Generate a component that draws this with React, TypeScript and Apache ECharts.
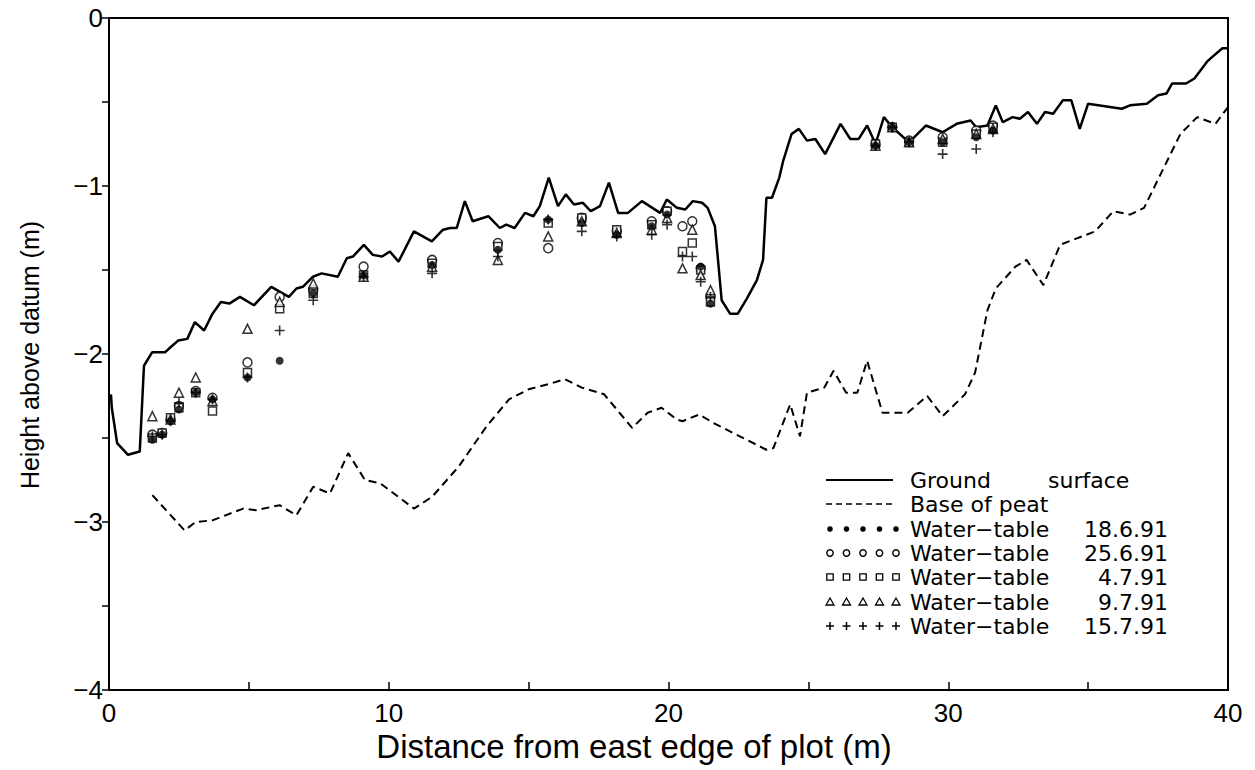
import React, { useEffect, useRef } from "react";
import * as echarts from "echarts";

// Ground surface profile [distance (m), height (m)]
const groundSurface: number[][] = [
  [0.07, -2.24], [0.1, -2.32], [0.29, -2.53], [0.68, -2.6], [1.1, -2.58], [1.25, -2.07], [1.54, -1.99], [2.0, -1.99],
  [2.2, -1.96], [2.47, -1.92], [2.8, -1.91], [3.07, -1.81], [3.4, -1.86], [3.7, -1.76], [4.0, -1.69], [4.3, -1.7],
  [4.68, -1.66], [5.18, -1.71], [5.8, -1.6], [6.43, -1.66], [6.7, -1.61], [6.93, -1.6], [7.29, -1.54], [7.6, -1.52],
  [8.18, -1.54], [8.5, -1.43], [8.72, -1.42], [9.11, -1.35], [9.43, -1.41], [9.76, -1.42], [10.04, -1.39], [10.35, -1.45],
  [10.9, -1.27], [11.54, -1.33], [11.94, -1.26], [12.2, -1.25], [12.43, -1.25], [12.72, -1.09], [13.0, -1.21], [13.56, -1.18],
  [13.97, -1.25], [14.2, -1.23], [14.5, -1.25], [14.87, -1.16], [15.17, -1.18], [15.4, -1.12], [15.72, -0.95], [16.05, -1.12],
  [16.33, -1.05], [16.62, -1.11], [16.94, -1.1], [17.22, -1.15], [17.55, -1.12], [17.87, -0.98], [18.2, -1.16], [18.55, -1.16],
  [19.05, -1.09], [19.7, -1.16], [19.94, -1.08], [20.3, -1.13], [20.6, -1.14], [20.87, -1.09], [21.2, -1.1], [21.4, -1.13],
  [21.66, -1.24], [21.77, -1.44], [21.9, -1.68], [22.2, -1.76], [22.48, -1.76], [22.8, -1.67], [23.16, -1.56], [23.38, -1.44],
  [23.5, -1.07], [23.7, -1.07], [23.96, -0.95], [24.1, -0.85], [24.4, -0.69], [24.66, -0.66], [24.95, -0.73], [25.25, -0.72],
  [25.6, -0.81], [26.15, -0.63], [26.5, -0.72], [26.8, -0.72], [27.1, -0.64], [27.4, -0.75], [27.7, -0.59], [28.0, -0.65],
  [28.6, -0.74], [29.2, -0.64], [29.8, -0.68], [30.3, -0.63], [30.8, -0.61], [31.0, -0.65], [31.4, -0.64], [31.7, -0.52],
  [31.95, -0.62], [32.3, -0.59], [32.56, -0.6], [32.85, -0.56], [33.17, -0.63], [33.46, -0.56], [33.75, -0.57], [34.1, -0.49],
  [34.4, -0.49], [34.7, -0.66], [35.0, -0.51], [36.2, -0.54], [36.5, -0.52], [37.1, -0.51], [37.5, -0.46], [37.8, -0.45],
  [38.0, -0.39], [38.5, -0.39], [38.8, -0.36], [39.25, -0.26], [39.45, -0.23], [39.8, -0.18], [40, -0.18],
];

// Base of peat profile [distance (m), height (m)]
const baseOfPeat: number[][] = [
  [1.55, -2.84], [2.7, -3.05], [3.1, -3.0], [3.7, -2.99], [4.8, -2.92], [5.25, -2.93], [6.1, -2.9], [6.7, -2.96],
  [7.3, -2.79], [7.9, -2.83], [8.55, -2.59], [9.15, -2.75], [9.7, -2.77], [10.9, -2.92], [11.55, -2.85], [12.5, -2.67],
  [13.5, -2.43], [14.3, -2.27], [15.0, -2.21], [15.7, -2.18], [16.3, -2.15], [16.9, -2.2], [17.7, -2.24], [18.7, -2.44],
  [19.25, -2.35], [19.75, -2.32], [20.3, -2.39], [20.5, -2.4], [21.1, -2.36], [21.6, -2.41], [23.5, -2.57], [23.75, -2.56],
  [24.35, -2.3], [24.7, -2.49], [24.95, -2.23], [25.57, -2.2], [25.9, -2.1], [26.35, -2.23], [26.75, -2.23], [27.1, -2.04],
  [27.65, -2.35], [28.05, -2.35], [28.55, -2.35], [29.25, -2.25], [29.8, -2.37], [30.6, -2.24], [30.96, -2.11], [31.4, -1.74],
  [31.7, -1.61], [32.4, -1.48], [32.8, -1.44], [33.4, -1.59], [34.0, -1.35], [35.25, -1.27], [35.9, -1.15], [36.5, -1.17],
  [37.0, -1.13], [38.3, -0.69], [38.9, -0.59], [39.55, -0.63], [40, -0.53],
];

// Dipwell stations (distance, m)
const stations = [1.55, 1.9, 2.2, 2.5, 3.1, 3.7, 4.95, 6.1, 7.3, 9.1, 11.55, 13.9, 15.7, 16.9, 18.15, 19.4, 19.95, 20.5, 20.85, 21.15, 21.5, 27.4, 28.0, 28.6, 29.8, 31.0, 31.6];

// Water-table heights (m) at each station
const wt180691 = [-2.51, -2.48, -2.4, -2.33, -2.23, -2.27, -2.14, -2.04, -1.64, -1.53, -1.47, -1.38, -1.2, -1.22, -1.29, -1.24, -1.17, null, null, -1.48, -1.7, -0.76, -0.65, -0.74, -0.74, -0.71, -0.67];
const wt250691 = [-2.48, -2.47, -2.39, -2.31, -2.22, -2.26, -2.05, -1.66, -1.62, -1.48, -1.44, -1.34, -1.37, -1.19, -1.27, -1.21, -1.15, -1.24, -1.21, -1.49, -1.66, -0.75, -0.65, -0.73, -0.71, -0.67, -0.64];
const wt040791 = [-2.5, -2.47, -2.38, -2.32, -2.23, -2.34, -2.11, -1.73, -1.64, -1.53, -1.46, -1.36, -1.22, -1.19, -1.26, -1.23, -1.15, -1.39, -1.34, -1.5, -1.69, -0.75, -0.65, -0.74, -0.74, -0.69, -0.65];
const wt090791 = [-2.37, null, -2.39, -2.23, -2.14, -2.28, -1.85, -1.69, -1.58, -1.54, -1.48, -1.44, -1.3, -1.21, -1.28, -1.26, -1.19, -1.49, -1.26, -1.53, -1.62, -0.76, -0.65, -0.74, -0.72, -0.69, -0.66];
const wt150791 = [-2.49, -2.48, -2.4, -2.29, -2.23, -2.27, -2.14, -1.86, -1.68, -1.54, -1.52, -1.42, -1.2, -1.27, -1.3, -1.29, -1.23, -1.42, -1.42, -1.57, -1.66, -0.76, -0.65, -0.74, -0.81, -0.78, -0.68];

const legendLabels = ["Ground", "surface", "Base of peat", "Water\u2212table", "18.6.91", "25.6.91", "4.7.91", "9.7.91", "15.7.91"];

const xTitle = "Distance from east edge of plot (m)";
const yTitle = "Height above datum (m)";

const AXIS_FONT = "'Liberation Sans', Arial, sans-serif";
const LEG_FONT = "'DejaVu Sans', Verdana, sans-serif";

const PLUS = "path://M4.2,0 H5.8 V4.2 H10 V5.8 H5.8 V10 H4.2 V5.8 H0 V4.2 H4.2 Z";

function pts(ys: (number | null)[]) {
  const out: number[][] = [];
  stations.forEach((x, i) => {
    const y = ys[i];
    if (y !== null && y !== undefined) out.push([x, y]);
  });
  return out;
}

function legendGraphic() {
  const els: any[] = [];
  const x0 = 826, x1 = 893;
  const textX = 910;
  const dateRight = 1168;
  const rows = [480, 504, 529, 553, 577, 602, 626];
  const font = `22px ${LEG_FONT}`;
  const txt = (t: string, x: number, y: number, align = "left") => ({
    type: "text", x, y,
    style: { text: t, font, fill: "#000", align, textAlign: align, verticalAlign: "middle", textVerticalAlign: "middle" },
  });
  els.push({ type: "line", shape: { x1: x0, y1: rows[0], x2: x1, y2: rows[0] }, style: { stroke: "#000", lineWidth: 2 } });
  els.push(txt(legendLabels[0], textX, rows[0]));
  els.push(txt(legendLabels[1], 1048, rows[0]));
  els.push({ type: "line", shape: { x1: x0, y1: rows[1], x2: x1, y2: rows[1] }, style: { stroke: "#000", lineWidth: 1.6, lineDash: [6, 4] } });
  els.push(txt(legendLabels[2], textX, rows[1]));
  const dates = [legendLabels[4], legendLabels[5], legendLabels[6], legendLabels[7], legendLabels[8]];
  dates.forEach((d, k) => {
    const y = rows[2 + k];
    for (let j = 0; j < 5; j++) {
      const cx = 830 + j * 16.5;
      if (k === 0) els.push({ type: "circle", shape: { cx, cy: y, r: 2.8 }, style: { fill: "#000" } });
      if (k === 1) els.push({ type: "circle", shape: { cx, cy: y, r: 3.2 }, style: { fill: "#fff", stroke: "#000", lineWidth: 1.4 } });
      if (k === 2) els.push({ type: "rect", shape: { x: cx - 3.2, y: y - 3.2, width: 6.4, height: 6.4 }, style: { fill: "#fff", stroke: "#000", lineWidth: 1.3 } });
      if (k === 3) els.push({ type: "polygon", shape: { points: [[cx, y - 4], [cx + 4, y + 3], [cx - 4, y + 3]] }, style: { fill: "#fff", stroke: "#000", lineWidth: 1.3 } });
      if (k === 4) {
        els.push({ type: "line", shape: { x1: cx - 4, y1: y, x2: cx + 4, y2: y }, style: { stroke: "#000", lineWidth: 1.5 } });
        els.push({ type: "line", shape: { x1: cx, y1: y - 4, x2: cx, y2: y + 4 }, style: { stroke: "#000", lineWidth: 1.5 } });
      }
    }
    els.push(txt(legendLabels[3], textX, y));
    els.push(txt(d, dateRight, y, "right"));
  });
  return els;
}

export default function App() {
  const ref = useRef<HTMLDivElement>(null);
  useEffect(() => {
    if (!ref.current) return;
    const chart = echarts.init(ref.current, undefined, { renderer: "svg" });
    const scatterBase = { type: "scatter", z: 5 };
    const option: any = {
      animation: false,
      backgroundColor: "#fff",
      grid: { left: 109, right: 27, top: 18, bottom: 80, show: true, borderColor: "#000", borderWidth: 2, backgroundColor: "transparent" },
      xAxis: {
        type: "value", min: 0, max: 40, interval: 5,
        axisLine: { onZero: false, lineStyle: { color: "#000", width: 2 } },
        axisTick: { inside: true, length: 8, lineStyle: { color: "#000", width: 1.5 } },
        axisLabel: { formatter: (v: number) => (v % 10 === 0 ? String(v) : ""), color: "#000", fontSize: 26, fontFamily: AXIS_FONT, margin: 10 },
        splitLine: { show: false },
      },
      yAxis: {
        type: "value", min: -4, max: 0, interval: 0.5,
        axisLine: { onZero: false, lineStyle: { color: "#000", width: 2 } },
        axisTick: { inside: false, length: 7, lineStyle: { color: "#000", width: 1.5 } },
        axisLabel: {
          formatter: (v: number) => (Number.isInteger(v) ? (v < 0 ? "\u2212" + Math.abs(v) : String(v)) : ""),
          color: "#000", fontSize: 26, fontFamily: AXIS_FONT, margin: 6,
        },
        splitLine: { show: false },
      },
      series: [
        { name: "Ground surface", type: "line", data: groundSurface, showSymbol: false, symbol: "none", lineStyle: { color: "#000", width: 2.5 }, z: 3 },
        { name: "Base of peat", type: "line", data: baseOfPeat, showSymbol: false, symbol: "none", lineStyle: { color: "#000", width: 2, type: [8, 5] }, z: 3 },
        { ...scatterBase, name: "Water-table 25.6.91", data: pts(wt250691), symbol: "circle", symbolSize: 9, itemStyle: { color: "#fff", borderColor: "#000", borderWidth: 1.5 } },
        { ...scatterBase, name: "Water-table 4.7.91", data: pts(wt040791), symbol: "rect", symbolSize: 8, itemStyle: { color: "#fff", borderColor: "#000", borderWidth: 1.5 } },
        { ...scatterBase, name: "Water-table 9.7.91", data: pts(wt090791), symbol: "triangle", symbolSize: 9, itemStyle: { color: "#fff", borderColor: "#000", borderWidth: 1.5 } },
        { ...scatterBase, name: "Water-table 15.7.91", data: pts(wt150791), symbol: PLUS, symbolSize: 10, itemStyle: { color: "#000" } },
        { ...scatterBase, z: 6, name: "Water-table 18.6.91", data: pts(wt180691), symbol: "circle", symbolSize: 8, itemStyle: { color: "#000" } },
      ],
      graphic: [
        { type: "text", x: 634, y: 746, style: { text: xTitle, font: `33px ${AXIS_FONT}`, fill: "#000", align: "center", textAlign: "center", verticalAlign: "middle", textVerticalAlign: "middle" } },
        { type: "text", x: 30, y: 355, rotation: Math.PI / 2, style: { text: yTitle, font: `25px ${AXIS_FONT}`, fill: "#000", align: "center", textAlign: "center", verticalAlign: "middle", textVerticalAlign: "middle" } },
        ...legendGraphic(),
      ],
    };
    chart.setOption(option);
    return () => chart.dispose();
  }, []);
  return <div ref={ref} style={{ position: "fixed", left: 0, top: 0, width: 1255, height: 770, background: "#fff" }} />;
}
